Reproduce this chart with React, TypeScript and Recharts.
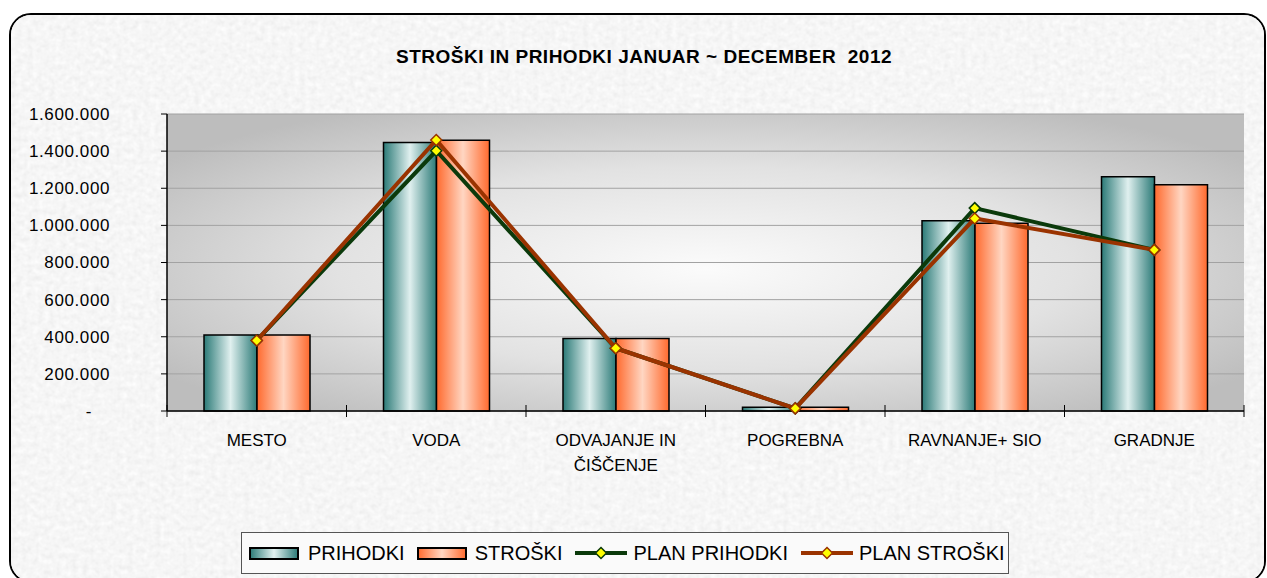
import React from "react"
import { ComposedChart, Bar, Line, XAxis, YAxis, CartesianGrid, Legend } from "recharts"

const categories = ["MESTO", "VODA", "ODVAJANJE IN ČIŠČENJE", "POGREBNA", "RAVNANJE+ SIO", "GRADNJE"]
const tickLabels = [["MESTO"], ["VODA"], ["ODVAJANJE IN", "ČIŠČENJE"], ["POGREBNA"], ["RAVNANJE+ SIO"], ["GRADNJE"]]
const prihodki = [410000, 1447000, 390000, 20000, 1025000, 1262000]
const stroski = [410000, 1458000, 390000, 20000, 1012000, 1219000]
const planPrihodki = [380000, 1402000, 338000, 14000, 1093000, 868000]
const planStroski = [380000, 1460000, 338000, 14000, 1037000, 868000]
const yTicks = [0, 200000, 400000, 600000, 800000, 1000000, 1200000, 1400000, 1600000]

const data = categories.map((name, i) => ({
  name,
  prihodki: prihodki[i],
  stroski: stroski[i],
  planPrihodki: planPrihodki[i],
  planStroski: planStroski[i],
}))

const FONT = "'Liberation Sans', Arial, sans-serif"
const GREEN = "#0b3a0b"
const BROWN = "#9a3300"

const fmt = (v: number) => String(v).replace(/\B(?=(\d{3})+(?!\d))/g, ".")

function diamond(cx: number, cy: number, r: number) {
  return `M${cx},${cy - r} L${cx + r},${cy} L${cx},${cy + r} L${cx - r},${cy} Z`
}

const makeDot = (color: string) => (p: any) => (
  <path key={`d-${p.index}`} d={diamond(p.cx, p.cy, 5.5)} fill="#ffff00" stroke={color} strokeWidth={1.5} />
)

function YTick({ x, y, payload }: any) {
  const zero = payload.value === 0
  return (
    <text x={zero ? x - 18 : x} y={y} dy="0.35em" textAnchor="end" fontSize={17} letterSpacing={0.6} fontFamily={FONT} fill="#000">
      {zero ? "-" : fmt(payload.value)}
    </text>
  )
}

function XTick({ x, y, payload, index, visibleTicksCount }: any) {
  const half = payload.offset ?? 0
  const lines = tickLabels[index] || [payload.value]
  return (
    <g>
      <line x1={x - half} x2={x - half} y1={y - 6} y2={y + 6} stroke="#000" strokeWidth={1} />
      {index === visibleTicksCount - 1 && (
        <line x1={x + half} x2={x + half} y1={y - 6} y2={y + 6} stroke="#000" strokeWidth={1} />
      )}
      <text x={x} y={y + 35} textAnchor="middle" fontSize={17} fontFamily={FONT} fill="#000">
        {lines.map((l: string, i: number) => (
          <tspan key={i} x={x} dy={i ? 25 : 0}>{l}</tspan>
        ))}
      </text>
    </g>
  )
}

function BarSwatch({ grad }: { grad: string }) {
  return (
    <svg width={50} height={13} style={{ display: "block", flexShrink: 0 }}>
      <defs>
        <linearGradient id={`lg-${grad}`} x1="0" y1="0" x2="1" y2="0">
          {grad === "teal" ? (
            <>
              <stop offset="0" stopColor="#2b7a77" />
              <stop offset="0.5" stopColor="#e3f2f1" />
              <stop offset="1" stopColor="#2b7a77" />
            </>
          ) : (
            <>
              <stop offset="0" stopColor="#ff6a2e" />
              <stop offset="0.5" stopColor="#ffd6c2" />
              <stop offset="1" stopColor="#ff6a2e" />
            </>
          )}
        </linearGradient>
      </defs>
      <rect x={1} y={1} width={48} height={11} fill={`url(#lg-${grad})`} stroke="#000" strokeWidth={2} />
    </svg>
  )
}

function LineSwatch({ color }: { color: string }) {
  return (
    <svg width={54} height={14} style={{ display: "block", flexShrink: 0 }}>
      <line x1={1} x2={53} y1={7} y2={7} stroke={color} strokeWidth={4} />
      <path d={diamond(27, 7, 5.5)} fill="#ffff00" stroke={color} strokeWidth={1.5} />
    </svg>
  )
}

function LegendBox() {
  const item = { display: "flex", alignItems: "center", marginRight: 12, flexShrink: 0 }
  const txt = { fontSize: 20, fontFamily: FONT, color: "#000", lineHeight: "20px", whiteSpace: "nowrap" as const }
  return (
    <div
      style={{
        boxSizing: "border-box",
        width: 768,
        height: 42,
        border: "1px solid #555",
        background: "#fafafa",
        display: "flex",
        alignItems: "center",
        paddingLeft: 7,
        overflow: "hidden",
      }}
    >
      <div style={item}><BarSwatch grad="teal" /><span style={{ ...txt, marginLeft: 9 }}>PRIHODKI</span></div>
      <div style={item}><BarSwatch grad="orange" /><span style={{ ...txt, marginLeft: 8 }}>STROŠKI</span></div>
      <div style={item}><LineSwatch color={GREEN} /><span style={{ ...txt, marginLeft: 5 }}>PLAN PRIHODKI</span></div>
      <div style={item}><LineSwatch color={BROWN} /><span style={{ ...txt, marginLeft: 5 }}>PLAN STROŠKI</span></div>
    </div>
  )
}

export default function App() {
  return (
    <div style={{ position: "fixed", left: 0, top: 0, width: 1267, height: 578, background: "#fff", overflow: "hidden" }}>
      <div
        style={{
          position: "absolute",
          left: 9,
          top: 13,
          width: 1257,
          height: 570,
          border: "2px solid #000",
          borderRadius: 22,
          background: "#e9e9e9",
          boxSizing: "border-box",
          overflow: "hidden",
        }}
      >
        <svg width={1257} height={570} style={{ display: "block" }}>
          <filter id="paper" x="0" y="0" width="100%" height="100%">
            <feTurbulence type="fractalNoise" baseFrequency="0.18" numOctaves={2} seed={3} />
            <feColorMatrix type="saturate" values="0" />
            <feComponentTransfer>
              <feFuncR type="linear" slope="0.22" intercept="0.81" />
              <feFuncG type="linear" slope="0.22" intercept="0.81" />
              <feFuncB type="linear" slope="0.22" intercept="0.81" />
              <feFuncA type="linear" slope="0" intercept="1" />
            </feComponentTransfer>
          </filter>
          <rect width={1257} height={570} filter="url(#paper)" />
        </svg>
      </div>
      <div
        style={{
          position: "absolute",
          left: 144,
          top: 48,
          width: 1000,
          textAlign: "center",
          fontFamily: FONT,
          fontWeight: "bold",
          fontSize: 19,
          lineHeight: "18px",
          letterSpacing: 0.5,
          whiteSpace: "pre",
          color: "#000",
        }}
      >
        STROŠKI IN PRIHODKI JANUAR ~ DECEMBER  2012
      </div>
      <div style={{ position: "absolute", left: 0, top: 0 }}>
        <ComposedChart
          width={1267}
          height={578}
          data={data}
          margin={{ top: 114, right: 23, bottom: 4, left: 0 }}
          barCategoryGap={37}
          barGap={0}
        >
          <defs>
            <radialGradient id="plotBg" cx="0.5" cy="0.52" r="0.62">
              <stop offset="0" stopColor="#fbfbfb" />
              <stop offset="0.55" stopColor="#e2e2e2" />
              <stop offset="1" stopColor="#bdbdbd" />
            </radialGradient>
            <linearGradient id="tealBar" x1="0" y1="0" x2="1" y2="0">
              <stop offset="0" stopColor="#2b7a77" />
              <stop offset="0.5" stopColor="#e0f0ef" />
              <stop offset="1" stopColor="#2b7a77" />
            </linearGradient>
            <linearGradient id="orangeBar" x1="0" y1="0" x2="1" y2="0">
              <stop offset="0" stopColor="#ff6a2e" />
              <stop offset="0.5" stopColor="#ffd6c2" />
              <stop offset="1" stopColor="#ff6a2e" />
            </linearGradient>
          </defs>
          <CartesianGrid vertical={false} stroke="#a2a2a2" strokeWidth={1} fill="url(#plotBg)" fillOpacity={1} />
          <XAxis
            dataKey="name"
            height={121}
            tickSize={0}
            tickMargin={0}
            tickLine={false}
            axisLine={{ stroke: "#000", strokeWidth: 1.5 }}
            tick={<XTick />}
            interval={0}
          />
          <YAxis
            width={167}
            domain={[0, 1600000]}
            ticks={yTicks}
            tickSize={6}
            tickMargin={51}
            axisLine={{ stroke: "#000", strokeWidth: 1.5 }}
            tickLine={{ stroke: "#000" }}
            tick={<YTick />}
            interval={0}
          />
          <YAxis
            yAxisId="frame"
            orientation="right"
            width={0}
            tick={false}
            tickLine={false}
            axisLine={{ stroke: "#8a8a8a", strokeWidth: 2 }}
          />
          <Legend verticalAlign="bottom" height={42} wrapperStyle={{ left: 241, width: 768, height: 42, bottom: 4 }} content={<LegendBox />} />
          <Bar dataKey="prihodki" name="PRIHODKI" fill="url(#tealBar)" stroke="#000" strokeWidth={1.5} isAnimationActive={false} />
          <Bar dataKey="stroski" name="STROŠKI" fill="url(#orangeBar)" stroke="#000" strokeWidth={1.5} isAnimationActive={false} />
          <Line
            dataKey="planPrihodki"
            name="PLAN PRIHODKI"
            type="linear"
            stroke={GREEN}
            strokeWidth={4}
            dot={makeDot(GREEN)}
            activeDot={false}
            isAnimationActive={false}
          />
          <Line
            dataKey="planStroski"
            name="PLAN STROŠKI"
            type="linear"
            stroke={BROWN}
            strokeWidth={4}
            dot={makeDot(BROWN)}
            activeDot={false}
            isAnimationActive={false}
          />
        </ComposedChart>
      </div>
    </div>
  )
}
